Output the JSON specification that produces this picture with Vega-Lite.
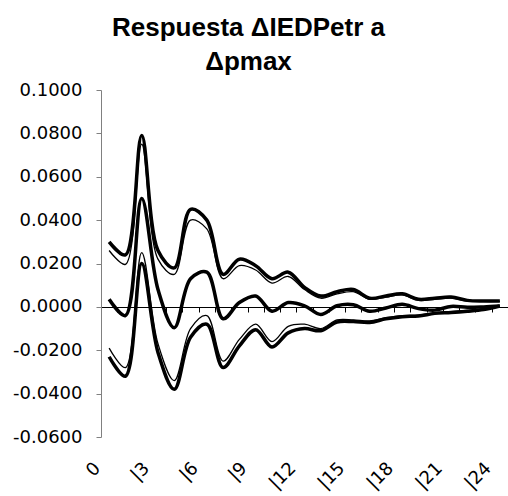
{
  "$schema": "https://vega.github.io/schema/vega-lite/v6.json",
  "width": 407,
  "height": 347,
  "autosize": "none",
  "padding": {"left": 101, "top": 90, "right": 0, "bottom": 59},
  "background": "white",
  "title": {
    "text": ["Respuesta ΔIEDPetr a", "Δpmax"],
    "font": "Liberation Sans",
    "fontSize": 26,
    "fontWeight": "bold",
    "lineHeight": 34,
    "anchor": "middle",
    "frame": "group",
    "dx": -56,
    "offset": 6,
    "color": "black"
  },
  "config": {
    "view": {"stroke": null},
    "axis": {"labelFont": "DejaVu Sans", "labelFontSize": 18, "labelColor": "black", "grid": false, "title": null}
  },
  "data": {
    "values": [
      {"t":0,"s":"centro","v":0.0035},{"t":1,"s":"centro","v":-0.004},{"t":2,"s":"centro","v":0.050},{"t":3,"s":"centro","v":0.008},{"t":4,"s":"centro","v":-0.0096},
      {"t":5,"s":"centro","v":0.013},{"t":6,"s":"centro","v":0.016},{"t":7,"s":"centro","v":-0.0055},{"t":8,"s":"centro","v":0.002},{"t":9,"s":"centro","v":0.005},
      {"t":10,"s":"centro","v":-0.002},{"t":11,"s":"centro","v":0.002},{"t":12,"s":"centro","v":0.0005},{"t":13,"s":"centro","v":-0.0035},{"t":14,"s":"centro","v":0.0005},
      {"t":15,"s":"centro","v":0.001},{"t":16,"s":"centro","v":-0.002},{"t":17,"s":"centro","v":-0.0005},{"t":18,"s":"centro","v":0.0012},{"t":19,"s":"centro","v":-0.0008},
      {"t":20,"s":"centro","v":-0.0015},{"t":21,"s":"centro","v":0.0002},{"t":22,"s":"centro","v":-0.0002},{"t":23,"s":"centro","v":0.0},{"t":24,"s":"centro","v":0.0004},

      {"t":0,"s":"supG","v":0.030},{"t":1,"s":"supG","v":0.024},{"t":2,"s":"supG","v":0.079},{"t":3,"s":"supG","v":0.026},{"t":4,"s":"supG","v":0.018},
      {"t":5,"s":"supG","v":0.045},{"t":6,"s":"supG","v":0.040},{"t":7,"s":"supG","v":0.015},{"t":8,"s":"supG","v":0.022},{"t":9,"s":"supG","v":0.019},
      {"t":10,"s":"supG","v":0.013},{"t":11,"s":"supG","v":0.016},{"t":12,"s":"supG","v":0.009},{"t":13,"s":"supG","v":0.005},{"t":14,"s":"supG","v":0.007},
      {"t":15,"s":"supG","v":0.008},{"t":16,"s":"supG","v":0.004},{"t":17,"s":"supG","v":0.005},{"t":18,"s":"supG","v":0.006},{"t":19,"s":"supG","v":0.0035},
      {"t":20,"s":"supG","v":0.004},{"t":21,"s":"supG","v":0.0045},{"t":22,"s":"supG","v":0.003},{"t":23,"s":"supG","v":0.0027},{"t":24,"s":"supG","v":0.0027},

      {"t":0,"s":"supF","v":0.026},{"t":1,"s":"supF","v":0.0196},{"t":2,"s":"supF","v":0.075},{"t":3,"s":"supF","v":0.022},{"t":4,"s":"supF","v":0.015},
      {"t":5,"s":"supF","v":0.040},{"t":6,"s":"supF","v":0.036},{"t":7,"s":"supF","v":0.013},{"t":8,"s":"supF","v":0.019},{"t":9,"s":"supF","v":0.017},
      {"t":10,"s":"supF","v":0.011},{"t":11,"s":"supF","v":0.014},{"t":12,"s":"supF","v":0.008},{"t":13,"s":"supF","v":0.004},{"t":14,"s":"supF","v":0.006},
      {"t":15,"s":"supF","v":0.007},{"t":16,"s":"supF","v":0.0035},{"t":17,"s":"supF","v":0.0045},{"t":18,"s":"supF","v":0.0055},{"t":19,"s":"supF","v":0.003},
      {"t":20,"s":"supF","v":0.0035},{"t":21,"s":"supF","v":0.004},{"t":22,"s":"supF","v":0.0027},{"t":23,"s":"supF","v":0.0025},{"t":24,"s":"supF","v":0.0025},

      {"t":0,"s":"infF","v":-0.019},{"t":1,"s":"infF","v":-0.028},{"t":2,"s":"infF","v":0.025},{"t":3,"s":"infF","v":-0.017},{"t":4,"s":"infF","v":-0.034},
      {"t":5,"s":"infF","v":-0.010},{"t":6,"s":"infF","v":-0.004},{"t":7,"s":"infF","v":-0.025},{"t":8,"s":"infF","v":-0.015},{"t":9,"s":"infF","v":-0.008},
      {"t":10,"s":"infF","v":-0.016},{"t":11,"s":"infF","v":-0.009},{"t":12,"s":"infF","v":-0.008},{"t":13,"s":"infF","v":-0.010},{"t":14,"s":"infF","v":-0.006},
      {"t":15,"s":"infF","v":-0.006},{"t":16,"s":"infF","v":-0.0065},{"t":17,"s":"infF","v":-0.005},{"t":18,"s":"infF","v":-0.004},{"t":19,"s":"infF","v":-0.0038},
      {"t":20,"s":"infF","v":-0.0028},{"t":21,"s":"infF","v":-0.0022},{"t":22,"s":"infF","v":-0.0016},{"t":23,"s":"infF","v":-0.001},{"t":24,"s":"infF","v":0.0002},

      {"t":0,"s":"infG","v":-0.023},{"t":1,"s":"infG","v":-0.032},{"t":2,"s":"infG","v":0.020},{"t":3,"s":"infG","v":-0.021},{"t":4,"s":"infG","v":-0.038},
      {"t":5,"s":"infG","v":-0.014},{"t":6,"s":"infG","v":-0.008},{"t":7,"s":"infG","v":-0.028},{"t":8,"s":"infG","v":-0.018},{"t":9,"s":"infG","v":-0.0105},
      {"t":10,"s":"infG","v":-0.0185},{"t":11,"s":"infG","v":-0.012},{"t":12,"s":"infG","v":-0.010},{"t":13,"s":"infG","v":-0.011},{"t":14,"s":"infG","v":-0.007},
      {"t":15,"s":"infG","v":-0.0068},{"t":16,"s":"infG","v":-0.0072},{"t":17,"s":"infG","v":-0.0055},{"t":18,"s":"infG","v":-0.0045},{"t":19,"s":"infG","v":-0.0042},
      {"t":20,"s":"infG","v":-0.003},{"t":21,"s":"infG","v":-0.0026},{"t":22,"s":"infG","v":-0.002},{"t":23,"s":"infG","v":-0.0012},{"t":24,"s":"infG","v":0.0004}
    ]
  },
  "encoding": {
    "x": {
      "field": "t",
      "type": "quantitative",
      "scale": {"domain": [-0.5, 24.5], "nice": false, "zero": false},
      "axis": {
        "values": [0,1,2,3,4,5,6,7,8,9,10,11,12,13,14,15,16,17,18,19,20,21,22,23,24],
        "offset": -130,
        "tickOffset": -8.14,
        "tickSize": 5,
        "tickColor": "black",
        "domainColor": "black",
        "labelAngle": -45,
        "labelPadding": 147,
        "labelOffset": -10,
        "labelOverlap": false,
        "labelFlush": false,
        "labelExpr": "datum.value % 3 == 0 ? (datum.value == 0 ? '0' : '|' + datum.value) : ''"
      }
    },
    "y": {
      "field": "v",
      "type": "quantitative",
      "scale": {"domain": [-0.06, 0.1], "nice": false, "zero": false},
      "axis": {
        "values": [-0.06, -0.04, -0.02, 0, 0.02, 0.04, 0.06, 0.08, 0.1],
        "labelExpr": "replace(format(datum.value, '.4f'), '\u2212', '-')",
        "domainColor": "#808080",
        "tickColor": "#808080",
        "tickSize": 5,
        "labelPadding": 14
      }
    },
    "detail": {"field": "s", "type": "nominal"}
  },
  "layer": [
    {
      "transform": [{"filter": {"field": "s", "oneOf": ["centro", "supG", "infG"]}}],
      "mark": {"type": "line", "color": "black", "strokeWidth": 3.5, "interpolate": "catmull-rom"}
    },
    {
      "transform": [{"filter": {"field": "s", "oneOf": ["supF", "infF"]}}],
      "mark": {"type": "line", "color": "black", "strokeWidth": 1.3, "interpolate": "catmull-rom"}
    }
  ]
}
